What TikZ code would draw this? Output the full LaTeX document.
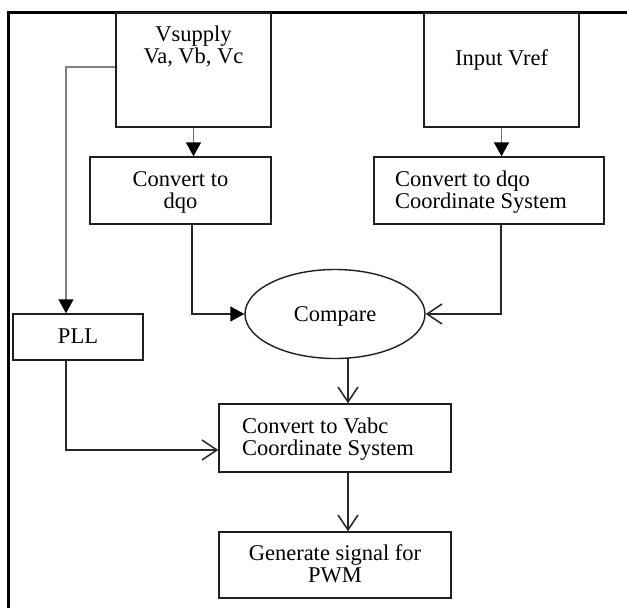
\documentclass[tikz,border=0pt]{standalone}
\usepackage{fontspec}
\setmainfont{Liberation Serif}
\usetikzlibrary{shapes.geometric,arrows.meta}
\tikzset{
  box/.style={draw=black!88, line width=1.4pt, inner sep=0pt, font=\fontsize{22.5}{22}\selectfont},
  oval/.style={draw=black!88, line width=1.4pt, ellipse, inner sep=0pt, minimum width=180pt, minimum height=89pt, text height=15pt, text depth=0pt, font=\fontsize{22.5}{22}\selectfont},
  solidarrow/.style={line width=1.4pt, -{Triangle[length=14pt,width=15pt,color=black]}},
  openarrow/.style={line width=1.5pt, draw=black!85, -{Straight Barb[length=15pt,width=20pt,line width=1.5pt]}},
  frame/.style={line width=2.6pt, black}
}
\newcommand{\boxtext}[5]{\parbox[c][#2pt][t]{#1pt}{#3\rule{0pt}{#4pt}#5}}
\begin{document}
\begin{tikzpicture}[x=1pt,y=-1pt]
\useasboundingbox (0,0) rectangle (627,608);
\draw[frame] (8.5,608) coordinate (fbl) -- (8.5,12.5) coordinate (ftl) -- (627,12.5) coordinate (ftr);

\node[box] (vs) at (193.5,70) {\boxtext{155}{114}{\centering}{28}{Vsupply\\Va, Vb, Vc}};
\node[box] (vref) at (501.5,70) {\boxtext{155}{114}{\centering}{52}{Input Vref}};
\node[box] (dqo) at (180.5,190.5) {\boxtext{181}{67}{\centering}{29}{Convert to\\dqo}};
\node[box] (coord) at (489,190.5) {\boxtext{230}{67}{\raggedright\leftskip=21pt}{29}{Convert to dqo\\Coordinate System}};
\node[oval] (cmp) at (335,314) {Compare};
\node[box] (pll) at (78,337) {\boxtext{130}{46}{\centering}{29}{PLL}};
\node[box] (vabc) at (335,438) {\boxtext{232}{68}{\raggedright\leftskip=23pt}{29}{Convert to Vabc\\Coordinate System}};
\node[box] (pwm) at (335,565) {\boxtext{232}{66}{\centering}{28}{Generate signal for\\PWM}};

\draw[solidarrow, draw=black!55] (vs.south) -- (vs.south |- dqo.north);
\draw[solidarrow, draw=black!55] (vref.south) -- (vref.south |- coord.north);
\draw[solidarrow, draw=black!50] ([yshift=3pt]vs.west) -| ([xshift=-12pt]pll.north);
\draw[solidarrow, draw=black!85] ([xshift=11.5pt]dqo.south) |- (cmp.west);
\draw[openarrow] ([xshift=12pt]coord.south) |- (cmp.east);
\draw[openarrow] ([xshift=13pt,yshift=1pt]cmp.south) -- ([xshift=13pt]vabc.north);
\draw[openarrow] ([xshift=-12pt]pll.south) |- ([yshift=-12pt]vabc.west);
\draw[openarrow] ([xshift=13pt]vabc.south) -- ([xshift=13pt]pwm.north);
\end{tikzpicture}
\end{document}
